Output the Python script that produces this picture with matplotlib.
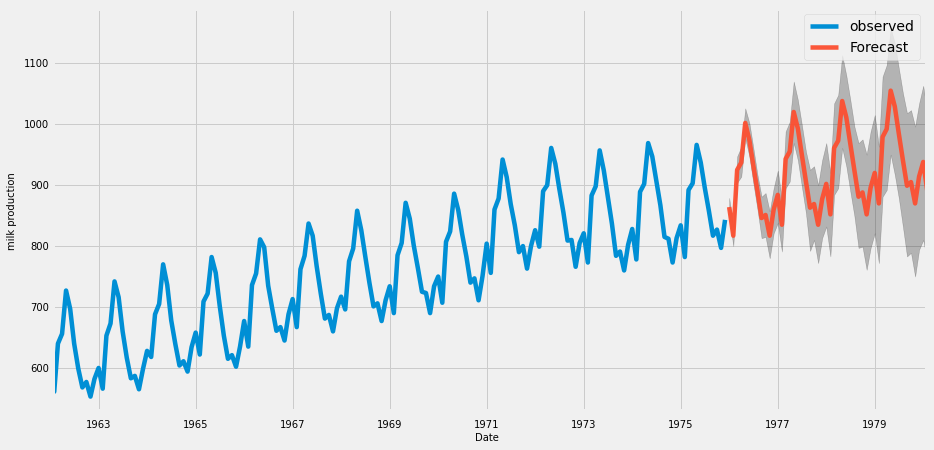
import pandas as pd
import matplotlib
matplotlib.use("Agg")
import matplotlib.pyplot as plt
import matplotlib.dates as mdates

plt.style.use('fivethirtyeight')

observed = [589, 561, 640, 656, 727, 697, 640, 599, 568, 577, 553, 582,
            600, 566, 653, 673, 742, 716, 660, 617, 583, 587, 565, 598,
            628, 618, 688, 705, 770, 736, 678, 639, 604, 611, 594, 634,
            658, 622, 709, 722, 782, 756, 702, 653, 615, 621, 602, 635,
            677, 635, 736, 755, 811, 798, 735, 697, 661, 667, 645, 688,
            713, 667, 762, 784, 837, 817, 767, 722, 681, 687, 660, 698,
            717, 696, 775, 796, 858, 826, 783, 740, 701, 706, 677, 711,
            734, 690, 785, 805, 871, 845, 801, 764, 725, 723, 690, 734,
            750, 707, 807, 824, 886, 859, 819, 783, 740, 747, 711, 751,
            804, 756, 860, 878, 942, 913, 869, 834, 790, 800, 763, 800,
            826, 799, 890, 900, 961, 935, 894, 855, 809, 810, 766, 805,
            821, 773, 883, 898, 957, 924, 881, 837, 784, 791, 760, 802,
            828, 778, 889, 902, 969, 947, 908, 867, 815, 812, 773, 813,
            834, 782, 892, 903, 966, 937, 896, 858, 817, 827, 797, 843]

forecast = [864, 817, 925, 937, 1002, 974, 932, 890, 846, 851, 817, 860,
            884, 835, 943, 955, 1020, 993, 950, 906, 863, 869, 835, 877,
            902, 852, 961, 973, 1038, 1011, 968, 924, 881, 888, 852, 896,
            920, 870, 979, 992, 1055, 1029, 985, 941, 899, 905, 870, 914,
            938, 890]

upper = [879, 832, 947, 963, 1026, 1002, 961, 917, 881, 887, 857, 895,
         924, 876, 988, 1004, 1070, 1040, 999, 955, 925, 931, 900, 941,
         969, 920, 1034, 1048, 1113, 1080, 1040, 996, 969, 975, 950, 988,
         1015, 963, 1078, 1097, 1157, 1133, 1092, 1051, 1018, 1023, 996, 1034,
         1063, 1018]

lower = [849, 800, 904, 914, 977, 947, 903, 860, 813, 815, 780, 821,
         838, 791, 895, 906, 969, 941, 898, 854, 792, 810, 772, 813,
         832, 783, 884, 895, 961, 931, 890, 849, 797, 799, 761, 797,
         821, 772, 881, 892, 950, 917, 879, 832, 783, 789, 750, 794,
         810, 775]

tick_years = [1963, 1965, 1967, 1969, 1971, 1973, 1975, 1977, 1979]

obs_dates = pd.date_range('1962-01-01', periods=len(observed), freq='MS')
fc_dates = pd.date_range('1976-01-01', periods=len(forecast), freq='MS')

fig = plt.figure(figsize=(934 / 72, 450 / 72), dpi=72)
ax = fig.add_axes([52.5 / 934, 1 - 410 / 450, (926 - 52.5) / 934, (410 - 9) / 450])

ax.plot(obs_dates, observed, label='observed', lw=4.5)
ax.plot(fc_dates, forecast, label='Forecast', lw=4.5, alpha=.95)
ax.fill_between(fc_dates, lower, upper, color='k', alpha=.25)

ax.set_xlim(pd.Timestamp('1962-01-19'), pd.Timestamp('1980-01-22'))
ax.set_ylim(531, 1189)
ax.set_xticks([pd.Timestamp(f'{y}-01-01') for y in tick_years])
ax.xaxis.set_major_formatter(mdates.DateFormatter('%Y'))
ax.tick_params(labelsize=10)
ax.tick_params(axis='x', pad=10)
ax.set_xlabel('Date', fontsize=10, labelpad=3)
ax.xaxis.label.set_x(0.4977)
ax.set_ylabel('milk production', fontsize=10)
ax.yaxis.set_label_coords(-0.0408, 0.495)
ax.legend(loc='upper right', fontsize=14, bbox_to_anchor=(1.0008, 1.005))

fig.savefig('out.png', dpi=72, facecolor=fig.get_facecolor())
